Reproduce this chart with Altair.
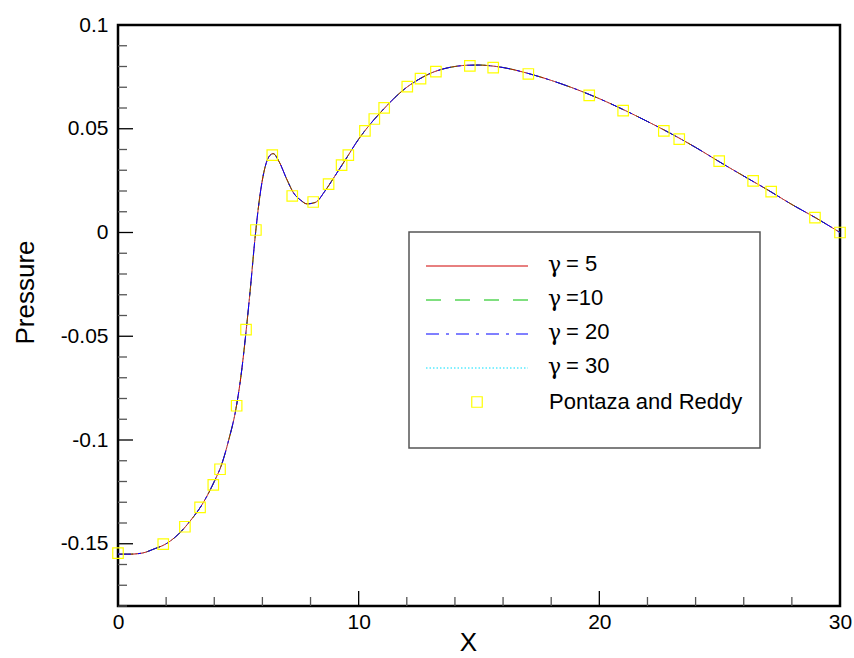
import altair as alt
import pandas as pd

# ---- data ----
curve_x = [0, 0.5, 1, 1.5, 2, 2.5, 3, 3.5, 4, 4.3, 4.6, 4.9, 5.1, 5.3, 5.5, 5.7, 5.9,
           6.1, 6.3, 6.45, 6.7, 7.0, 7.3, 7.6, 7.85, 8.2, 8.6, 9.0, 9.5, 10, 10.5, 11,
           11.5, 12, 12.5, 13, 13.5, 14, 14.5, 15, 15.5, 16, 17, 18, 19, 20, 21, 22,
           23, 24, 25, 26, 27, 28, 29, 30]
p_gamma5 = [-0.155, -0.155, -0.1545, -0.1525, -0.150, -0.1455, -0.139, -0.131, -0.120,
            -0.112, -0.100, -0.085, -0.070, -0.050, -0.027, -0.002, 0.018, 0.031, 0.037,
            0.038, 0.034, 0.026, 0.019, 0.0155, 0.0138, 0.0145, 0.020, 0.027, 0.036,
            0.045, 0.0525, 0.059, 0.065, 0.070, 0.0738, 0.0768, 0.0788, 0.080, 0.0806,
            0.0807, 0.0803, 0.0795, 0.0768, 0.0733, 0.0692, 0.0645, 0.0592, 0.0535,
            0.0475, 0.041, 0.034, 0.0272, 0.0205, 0.0135, 0.007, 0.0]
p_gamma10 = list(p_gamma5)
p_gamma20 = list(p_gamma5)
p_gamma30 = list(p_gamma5)

marker_x = [0, 1.88, 2.78, 3.41, 3.96, 4.24, 4.93, 5.32, 5.73, 6.41, 7.24, 8.11, 8.75,
            9.29, 9.57, 10.26, 10.65, 11.06, 12.02, 12.57, 13.21, 14.62, 15.59, 17.05,
            19.58, 20.99, 22.68, 23.32, 24.98, 26.39, 27.14, 28.96, 30.0]
marker_p = [-0.1545, -0.1502, -0.1418, -0.1325, -0.1216, -0.1141, -0.0835, -0.0468,
            0.0012, 0.0373, 0.0176, 0.0147, 0.0233, 0.0325, 0.0373, 0.0490, 0.0547,
            0.0601, 0.0703, 0.0742, 0.0775, 0.0803, 0.0795, 0.0764, 0.0661, 0.0587,
            0.0490, 0.0450, 0.0344, 0.0249, 0.0197, 0.0072, 0.0]

gamma_symbol = "γ"
series_suffix = ["= 5", "=10", "= 20", "= 30"]
marker_label = "Pontaza and Reddy"
x_major = [0, 10, 20, 30]
x_minor = [2, 4, 6, 8, 12, 14, 16, 18, 22, 24, 26, 28]
y_major = [-0.15, -0.1, -0.05, 0, 0.05, 0.1]
y_minor = [-0.18, -0.17, -0.16, -0.14, -0.13, -0.12, -0.11, -0.09, -0.08, -0.07, -0.06,
           -0.04, -0.03, -0.02, -0.01, 0.01, 0.02, 0.03, 0.04, 0.06, 0.07, 0.08, 0.09]

# ---- styles ----
colors = ["#d00000", "#00c000", "#0000ff", "#00e0ff"]
dashes = [[1, 0], [15, 14], [13, 7, 3, 7], [1.5, 2]]
FONT = "Liberation Sans"
W, H = 722, 581

xscale = alt.Scale(domain=[0, 30], nice=False, zero=False)
yscale = alt.Scale(domain=[-0.18, 0.1], nice=False, zero=False)
xaxis = alt.Axis(values=x_major, labelExpr="toString(datum.value)", labelFlush=False,
                 labelPadding=5, title="X", titleX=350, titleY=44,
                 titleBaseline="alphabetic")
yaxis = alt.Axis(values=y_major, labelExpr="toString(datum.value)", labelFlush=False,
                 labelPadding=10, title="Pressure", titleX=-85, titleY=267,
                 titleAngle=270, titleAlign="center", titleBaseline="alphabetic")
XE = alt.X("X:Q", scale=xscale, axis=xaxis)
YE = alt.Y("P:Q", scale=yscale, axis=yaxis)

series_values = [p_gamma5, p_gamma10, p_gamma20, p_gamma30]

layers = []
# draw order: cyan, green, red, blue on top
for i in [3, 1, 0, 2]:
    df = pd.DataFrame({"X": curve_x, "P": series_values[i]})
    layers.append(
        alt.Chart(df).mark_line(color=colors[i], strokeDash=dashes[i], strokeWidth=1,
                                interpolate="monotone", clip=True)
        .encode(x=XE, y=YE)
    )

markers = pd.DataFrame({"X": marker_x, "P": marker_p})
layers.append(
    alt.Chart(markers).mark_point(shape="square", size=110, filled=False,
                                  color="#ffff00", strokeWidth=1.2, opacity=1)
    .encode(x=XE, y=YE)
)

# inward ticks
def yticks(vals, length, color):
    return alt.Chart(pd.DataFrame({"P": vals})).mark_rule(color=color, strokeWidth=1.3).encode(
        y=YE, x=alt.value(0), x2=alt.value(length))

def xticks(vals, length, color):
    return alt.Chart(pd.DataFrame({"X": vals})).mark_rule(color=color, strokeWidth=1.3).encode(
        x=XE, y=alt.value(H), y2=alt.value(H - length))

layers += [yticks(y_major, 15, "black"), yticks(y_minor, 9, "#555555"),
           xticks(x_major, 15, "black"), xticks(x_minor, 9, "#555555")]

# legend box
one = pd.DataFrame({"a": [0]})
layers.append(
    alt.Chart(one).mark_rect(fill="white", stroke="#555555", strokeWidth=1.5).encode(
        x=alt.value(291), x2=alt.value(642), y=alt.value(207), y2=alt.value(423))
)
row_y = [241, 275, 309, 343]
for i in range(4):
    layers.append(
        alt.Chart(one).mark_rule(color=colors[i], strokeDash=dashes[i], strokeWidth=1).encode(
            x=alt.value(308), x2=alt.value(410), y=alt.value(row_y[i]))
    )
    layers.append(
        alt.Chart(one).mark_text(text=gamma_symbol, font="DejaVu Serif", fontSize=22,
                                 align="left", baseline="middle", color="black").encode(
            x=alt.value(430), y=alt.value(row_y[i] - 1))
    )
    layers.append(
        alt.Chart(one).mark_text(text=series_suffix[i], font=FONT, fontSize=22, align="left",
                                 baseline="middle", color="black").encode(
            x=alt.value(448), y=alt.value(row_y[i] - 2))
    )
layers.append(
    alt.Chart(one).mark_point(shape="square", size=110, filled=False, color="#ffff00",
                              strokeWidth=1.2, opacity=1).encode(
        x=alt.value(359), y=alt.value(377))
)
layers.append(
    alt.Chart(one).mark_text(text=marker_label, font=FONT, fontSize=22, align="left",
                             baseline="middle", color="black").encode(
        x=alt.value(431), y=alt.value(377))
)

chart = alt.layer(*layers).properties(
    width=W, height=H,
    autosize=alt.AutoSizeParams(type="none"),
    padding={"left": 118, "top": 25, "right": 14, "bottom": 52},
).configure(
    background="white"
).configure_view(
    stroke="black", strokeWidth=2.5
).configure_axis(
    labelFont=FONT, labelFontSize=21, labelColor="black",
    titleFont=FONT, titleFontSize=26, titleFontWeight="normal", titleColor="black",
    grid=False, ticks=False, domain=False
)

chart.save("out.html", embed_options={"renderer": "svg", "actions": False})
